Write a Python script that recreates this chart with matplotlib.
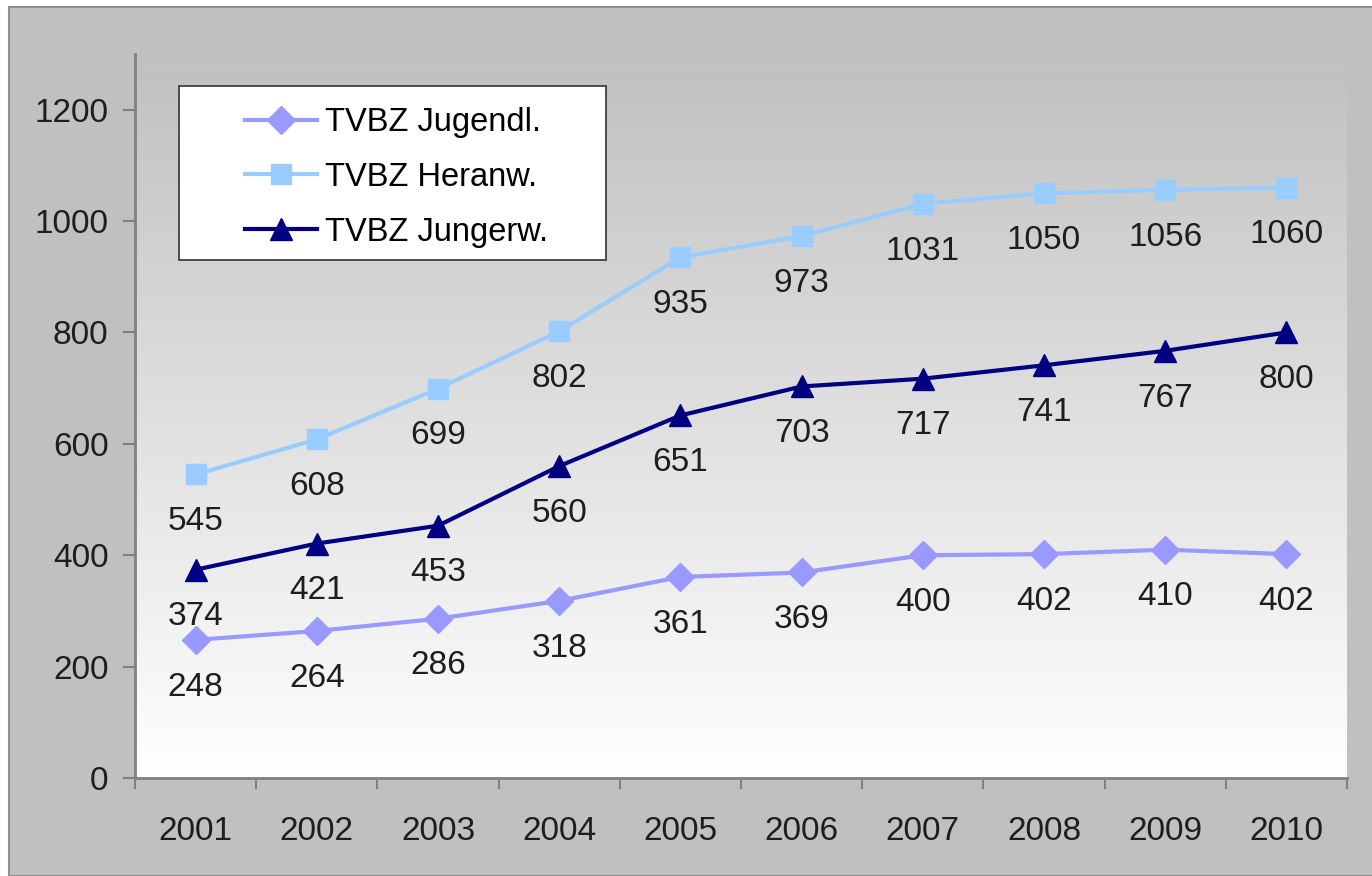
import matplotlib.pyplot as plt
import numpy as np
from matplotlib.patches import Rectangle
from matplotlib.colors import LinearSegmentedColormap

plt.rcParams['font.family'] = ['Liberation Sans', 'DejaVu Sans']

years = ['2001', '2002', '2003', '2004', '2005', '2006', '2007', '2008', '2009', '2010']
jugendl = [248, 264, 286, 318, 361, 369, 400, 402, 410, 402]
heranw = [545, 608, 699, 802, 935, 973, 1031, 1050, 1056, 1060]
jungerw = [374, 421, 453, 560, 651, 703, 717, 741, 767, 800]

series = [
    ('TVBZ Jugendl.', jugendl, '#9999ff', 'D', 14),
    ('TVBZ Heranw.', heranw, '#99ccff', 's', 15),
    ('TVBZ Jungerw.', jungerw, '#000080', '^', 16),
]

fig = plt.figure(figsize=(13.72, 8.76), dpi=100)
fig.patch.set_facecolor('white')
# grey chart frame
fig.patches.append(Rectangle((9 / 1372, 0), 1.0, 1 - 7 / 876, transform=fig.transFigure,
                             facecolor='#c0c0c0', edgecolor='#909090', linewidth=1.5, zorder=-10))

ax = fig.add_axes([135 / 1372, 98 / 876, 1212 / 1372, 822 / 876 - 98 / 876])
ax.set_facecolor('none')

# vertical gradient grey -> white
grad = np.linspace(0, 1, 256).reshape(-1, 1)
cmap = LinearSegmentedColormap.from_list('g', ['white', '#c0c0c0'])
ax.imshow(grad, extent=[0, 1, 0, 1], transform=ax.transAxes, aspect='auto',
          cmap=cmap, origin='lower', zorder=0)

x = np.arange(len(years))
for name, vals, col, mk, ms in series:
    ax.plot(x, vals, color=col, marker=mk, markersize=ms, linewidth=3, label=name, zorder=3)
    for xi, v in zip(x, vals):
        ax.annotate(str(v), (xi, v), xytext=(0, -34), textcoords='offset points',
                    ha='center', va='center', fontsize=24, color='#1e1e1e', zorder=4)

ax.set_xlim(-0.5, len(years) - 0.5)
ax.set_ylim(0, 1300)
ax.set_yticks(range(0, 1201, 200))
ax.tick_params(axis='y', labelsize=24, length=9, width=1.5, color='#808080', pad=10,
               labelcolor='#1e1e1e')

ax.set_xticks(np.arange(-0.5, len(years)), labels=[''] * (len(years) + 1))
ax.set_xticks(x, labels=years, minor=True)
ax.tick_params(axis='x', which='major', length=8, width=1.5, color='#808080')
ax.tick_params(axis='x', which='minor', length=0, labelsize=24, pad=27, labelcolor='#1e1e1e')

for s in ['top', 'right']:
    ax.spines[s].set_visible(False)
for s in ['left', 'bottom']:
    ax.spines[s].set_color('#808080')
    ax.spines[s].set_linewidth(2)

# legend box
ax.add_patch(Rectangle((44 / 1212, 518 / 724), 427 / 1212, 174 / 724, transform=ax.transAxes,
                       facecolor='white', edgecolor='#404040', linewidth=1.3, zorder=5))
leg = ax.legend(loc='upper left', bbox_to_anchor=(110 / 1212, 1 - 53 / 724), fontsize=23.5,
                frameon=False, handlelength=2.2, handletextpad=0.25,
                borderpad=0, labelspacing=0.73, borderaxespad=0)
leg.set_zorder(6)

fig.savefig('out.png', dpi=100)
